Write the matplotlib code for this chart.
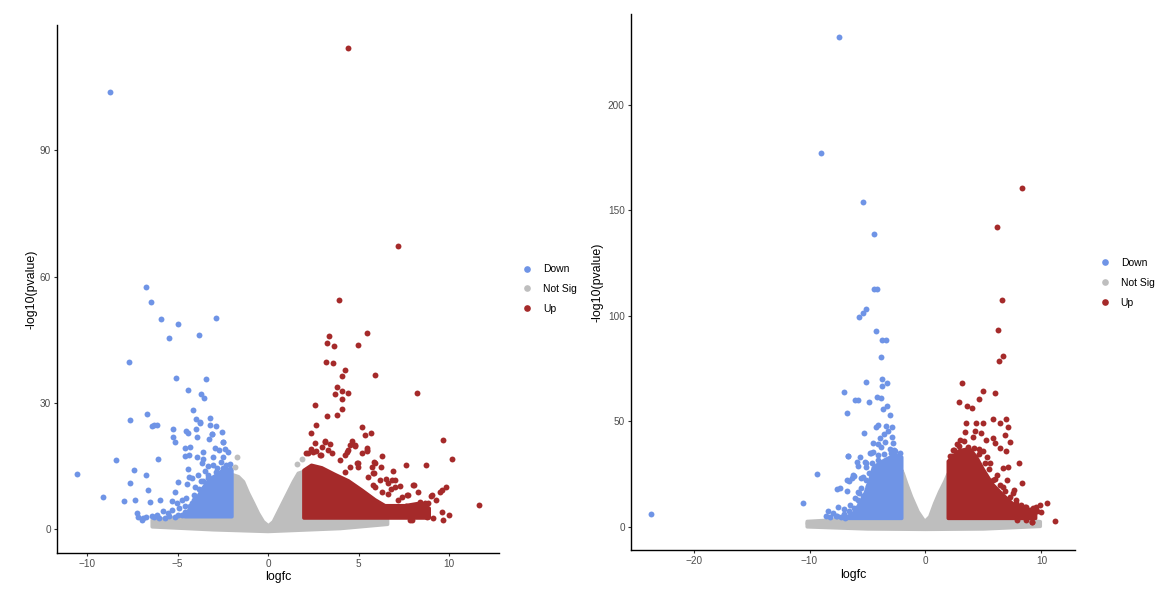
import matplotlib
matplotlib.use("Agg")
import matplotlib.pyplot as plt
from matplotlib.lines import Line2D

plt.rcParams['font.family'] = ['Liberation Sans', 'DejaVu Sans']

groups = ['Down', 'Not Sig', 'Up']
group_colors = ['#6F94E6', '#BEBEBE', '#A52A2A']

# ---- left panel ----
# single points (logfc, -log10 p)
left_down_x = [-8.73, -6.76, -6.48, -5.91, -4.99, -5.45, -2.89, -3.80, -7.66, -5.07, -3.43, -4.44,
               -3.72, -3.54, -4.13, -7.64, -6.69, -6.43, -6.28, -6.12, -5.23, -3.20, -4.00, -3.76,
               -3.19, -2.89, -4.55, -4.44, -3.94, -3.11, -2.52, -2.50, -5.23, -5.12, -3.24, -8.42,
               -6.08, -10.57, -9.12, -7.40, -6.76, -7.64, -6.63, -7.94, -7.35, -6.50, -5.95, -7.25,
               -6.98, -6.74, -6.43, -6.15, -4.96, -5.14, -5.32, -5.04, -4.75, -4.53, -4.44, -4.38,
               -4.22, -4.05, -4.49, -5.80, -5.51, -5.14, -4.74, -4.38, -3.63, -3.30, -3.04, -4.57,
               -4.33, -4.60, -4.36, -3.94, -3.61, -3.57, -2.91, -2.71, -2.36, -2.23, -3.02, -2.50,
               -2.58, -3.09, -2.49, -4.00, -3.77, -7.20, -6.90, -6.30, -5.70, -5.30, -4.90, -4.60,
               -4.20, -4.10, -3.90, -3.70, -3.50, -3.30, -2.80, -2.30, -2.10,
               -2.10, -2.50, -2.90, -3.30, -3.60, -3.80, -4.10, -4.30, -4.60, -5.00, -5.50, -6.00]
left_down_y = [103.9, 57.5, 54.1, 50.0, 48.8, 45.5, 50.2, 46.2, 39.7, 35.9, 35.6, 33.2,
               32.1, 31.2, 28.3, 26.0, 27.5, 24.5, 24.8, 24.7, 23.9, 26.5, 26.2, 25.3,
               24.8, 24.5, 23.3, 22.8, 22.0, 22.6, 23.2, 20.8, 22.0, 20.7, 21.4, 16.4,
               16.8, 13.1, 7.6, 14.1, 13.0, 11.1, 9.3, 6.7, 7.0, 6.5, 6.9, 3.9,
               2.3, 2.9, 3.2, 3.4, 11.3, 8.9, 6.7, 6.3, 7.0, 7.5, 14.3, 12.4,
               12.3, 10.0, 10.8, 4.4, 3.9, 3.0, 3.5, 4.0, 15.8, 15.0, 15.2, 19.4,
               19.5, 17.5, 17.6, 17.2, 18.3, 16.7, 19.4, 18.9, 19.2, 18.4, 17.1, 17.1,
               16.1, 22.7, 20.7, 23.9, 25.4, 3.0, 2.6, 2.9, 2.6, 4.6, 5.0, 5.6,
               6.3, 8.2, 12.9, 11.4, 13.9, 12.2, 14.6, 15.2, 14.4,
               15.6, 14.6, 13.6, 12.8, 11.5, 9.5, 7.0, 5.5, 4.2, 3.4, 3.2, 2.8]
left_ns_x = [-1.73, -1.82, 1.60, 1.88]
left_ns_y = [17.2, 14.9, 15.6, 16.7]
left_up_x = [4.42, 7.18, 3.92, 5.45, 3.37, 3.26, 3.66, 4.95, 3.22, 3.57, 4.25, 4.10,
             5.91, 3.80, 3.68, 4.09, 4.44, 4.07, 8.21, 2.60, 3.24, 3.80, 4.10, 2.65,
             2.38, 5.19, 5.38, 5.71, 9.67, 10.15, 3.17, 3.41, 2.98, 4.64, 4.82, 4.42,
             5.47, 5.49, 6.30, 5.87, 6.23, 5.78, 7.64, 8.75, 6.91, 2.10, 2.36, 2.65,
             2.91, 4.99, 4.53, 4.25, 7.29, 8.07, 6.78, 7.68, 6.61, 9.85, 9.50, 9.28,
             8.99, 11.64, 8.77, 9.13, 9.69, 7.85, 8.40, 8.67, 8.86, 7.20, 7.60, 8.20,
             9.60, 10.00, 6.20, 5.80, 6.50, 7.00, 8.30, 5.50,
             4.53, 4.81, 5.45, 5.91, 5.76, 5.87, 4.90, 4.99, 4.25, 4.35, 3.33, 3.52,
             2.23, 2.50, 2.87, 2.60, 3.15, 8.03, 6.83, 6.65, 7.02, 5.91, 6.28, 7.39,
             7.75, 9.04, 9.59, 7.94, 3.98, 5.18]
left_up_y = [114.3, 67.3, 54.5, 46.7, 45.9, 44.3, 43.6, 43.9, 39.7, 39.6, 37.8, 36.4,
             36.7, 33.7, 32.1, 32.8, 32.4, 31.0, 32.5, 29.5, 26.9, 27.1, 28.5, 24.8,
             23.0, 24.2, 22.3, 22.9, 21.3, 16.6, 20.9, 20.3, 19.6, 21.0, 19.8, 18.8,
             19.4, 18.6, 17.4, 15.9, 14.8, 13.3, 15.3, 15.2, 13.8, 18.1, 19.0, 18.6,
             17.6, 15.7, 14.9, 13.7, 10.4, 10.6, 9.5, 8.1, 8.3, 10.0, 8.9, 7.0,
             7.9, 5.8, 3.0, 2.75, 2.1, 2.2, 6.6, 6.2, 6.3, 6.9, 5.5, 4.5,
             4.2, 3.5, 11.8, 10.5, 12.0, 11.8, 8.8, 12.5,
             20.0, 20.0, 18.8, 15.7, 14.9, 13.3, 15.7, 14.9, 17.6, 18.4, 18.8, 18.1,
             18.1, 18.4, 17.6, 20.4, 20.8, 10.5, 11.7, 10.9, 10.1, 10.1, 8.9, 7.7,
             8.1, 8.1, 9.3, 2.2, 16.5, 18.1]
# outlines of the areas where the points overlap into a solid mass
left_ns_area_x = [-6.4, -6.4, -5.0, -3.0, -2.0, -1.92, -1.64, -1.36, -1.09, -0.81, -0.54, -0.26,
                  0.02, 0.29, 0.57, 0.85, 1.12, 1.40, 1.67, 1.95, 2.0, 5.0, 6.6, 6.6, 4.0, 0.0, -3.0]
left_ns_area_y = [0.6, 2.2, 2.8, 3.0, 3.0, 12.9, 12.5, 11.3, 8.6, 6.2, 3.8, 1.8,
                  0.8, 1.8, 4.2, 6.6, 8.9, 11.3, 13.3, 13.7, 3.0, 2.8, 2.6, 1.2, 0.2, -0.5, -0.1]
left_down_area_x = [-2.0, -2.0, -2.4, -2.8, -3.2, -3.6, -3.9, -4.2, -4.5, -4.6]
left_down_area_y = [3.0, 14.0, 14.4, 13.0, 12.0, 9.8, 7.6, 5.6, 3.8, 3.0]
left_up_area_x = [1.98, 1.98, 2.4, 2.97, 3.7, 4.44, 5.18, 5.91, 6.46, 7.57, 8.4, 8.9, 8.9]
left_up_area_y = [2.7, 14.0, 15.2, 14.6, 13.0, 11.5, 9.3, 7.0, 5.6, 5.6, 6.2, 5.0, 2.7]

# ---- right panel ----
right_down_x = [-7.45, -9.05, -5.41, -4.40, -4.40, -4.17, -5.72, -5.43, -5.15, -4.26, -3.71, -3.42,
                -3.83, -3.79, -3.79, -3.28, -5.17, -7.07, -6.07, -5.78, -4.86, -4.22, -3.85, -3.66,
                -3.36, -3.08, -6.81, -5.29, -4.31, -4.08, -3.42, -2.88, -3.60, -6.64, -5.66, -5.17,
                -5.78, -4.69, -4.52, -4.09, -3.85, -9.40, -6.59, -6.16, -7.62, -6.81, -5.78, -5.52,
                -10.58, -7.53, -23.68, -5.66, -5.23, -4.95, -4.66, -4.22, -5.95, -6.09, -6.38, -3.94,
                -3.51, -2.93, -2.79, -4.52, -4.80, -4.09, -6.67, -5.90, -5.23, -5.09, -6.24, -6.38,
                -6.76, -5.52, -5.38, -5.09, -7.39, -5.72, -6.09, -8.40, -8.00, -7.70, -7.30, -6.90,
                -8.60, -7.00, -6.50, -3.20, -2.60, -3.00, -2.40,
                -2.20, -2.70, -3.10, -3.60, -4.10, -4.60, -4.90, -5.00, -5.40, -5.80, -6.20, -6.60,
                -7.00, -7.60, -8.20]
right_down_y = [231.9, 177.3, 153.9, 138.6, 112.7, 112.8, 99.5, 101.4, 103.0, 92.7, 88.3, 88.5,
                80.3, 70.1, 66.8, 68.0, 68.6, 63.8, 60.0, 60.2, 59.0, 61.3, 61.0, 55.9,
                57.2, 52.9, 54.0, 44.3, 47.3, 48.1, 47.7, 47.1, 44.0, 33.6, 33.2, 30.0,
                28.7, 35.1, 39.5, 39.1, 37.9, 24.8, 21.8, 24.0, 18.0, 16.9, 16.6, 18.2,
                11.4, 9.3, 6.2, 11.1, 11.8, 12.6, 13.3, 14.2, 7.9, 6.3, 5.5, 41.9,
                40.3, 42.7, 39.5, 35.5, 34.8, 34.0, 33.5, 30.8, 30.8, 28.1, 24.5, 22.9,
                22.1, 22.9, 23.7, 22.1, 18.2, 15.8, 13.5, 7.6, 6.3, 5.2, 4.5, 4.0,
                5.0, 8.5, 10.5, 45.5, 36.0, 35.0, 33.5,
                35.0, 36.5, 37.0, 34.5, 31.5, 30.0, 25.5, 19.5, 14.5, 12.5, 9.0, 7.5,
                6.0, 5.0, 4.5]
right_ns_x = [-10.17]
right_ns_y = [1.6]
right_up_x = [8.33, 6.17, 6.58, 6.29, 6.38, 6.72, 3.13, 4.94, 4.66, 5.97, 2.93, 3.59,
              3.99, 3.53, 4.40, 4.97, 5.83, 6.41, 6.98, 7.12, 3.39, 4.10, 4.83, 5.26,
              5.83, 5.97, 6.84, 7.33, 6.41, 6.98, 8.04, 6.69, 7.12, 5.83, 6.69, 7.55,
              8.34, 7.84, 8.71, 9.28, 9.85, 9.22, 10.48, 11.21, 9.57, 8.84, 8.41, 9.19,
              8.71, 7.90, 2.50, 2.30, 4.60, 5.30, 5.60, 6.20, 7.00, 7.60, 5.00, 4.30,
              3.00, 2.70,
              2.10, 2.40, 2.90, 3.30, 3.70, 4.20, 4.60, 5.10, 5.50, 6.00, 6.40, 6.90,
              7.30, 7.80, 8.20, 8.60, 9.00, 9.60, 10.00]
right_up_y = [160.7, 142.2, 107.3, 93.4, 78.7, 80.8, 68.3, 64.5, 60.5, 63.2, 59.0, 57.4,
              56.4, 49.0, 49.3, 49.0, 50.9, 49.3, 50.9, 47.4, 45.0, 42.7, 44.3, 41.1,
              41.9, 39.5, 43.5, 40.0, 37.2, 36.0, 30.0, 27.7, 28.4, 22.1, 19.0, 15.8,
              20.6, 11.1, 9.5, 8.7, 10.3, 2.4, 11.1, 2.9, 9.5, 7.4, 6.6, 2.1,
              3.2, 3.2, 36.5, 33.5, 37.0, 33.0, 30.0, 24.5, 22.0, 17.5, 36.0, 45.5,
              41.0, 39.0,
              33.5, 36.5, 38.5, 40.5, 38.0, 37.5, 34.5, 30.0, 27.5, 22.5, 20.0, 17.0,
              14.0, 12.5, 10.5, 9.5, 8.0, 7.5, 7.0]
right_ns_area_x = [-10.2, -10.2, -7.0, -2.07, -2.07, -1.93, -1.64, -1.21, -0.64, -0.06, 0.37, 0.80,
                   1.23, 1.66, 1.95, 2.0, 8.0, 9.9, 9.9, 5.0, 0.0, -5.0]
right_ns_area_y = [0.0, 2.5, 3.5, 4.0, 26.9, 25.3, 20.6, 14.2, 7.1, 2.4, 4.7, 11.1,
                   16.6, 21.3, 25.0, 4.0, 3.5, 2.4, 0.2, -1.0, -1.2, -1.0]
right_down_area_x = [-2.05, -2.05, -2.6, -3.4, -4.0, -4.5, -4.8, -5.2, -5.66, -6.24, -6.8, -6.8]
right_down_area_y = [4.0, 33.0, 34.0, 32.0, 30.0, 28.0, 22.0, 16.0, 11.0, 6.3, 4.6, 4.0]
right_up_area_x = [1.97, 1.97, 2.9, 3.8, 4.4, 5.0, 5.8, 6.7, 7.5, 8.7, 9.5, 9.5]
right_up_area_y = [4.0, 31.0, 36.0, 37.0, 33.0, 27.0, 20.0, 15.0, 11.0, 8.5, 7.0, 4.0]

left_xticks = [-10, -5, 0, 5, 10]
left_yticks = [0, 30, 60, 90]
right_xticks = [-20, -10, 0, 10]
right_yticks = [0, 50, 100, 150, 200]


def volcano(ax, areas, points, xlim, ylim, xticks, yticks):
    # draw the not-sig cloud first, then down/up masses, then single points
    for i in [1, 0, 2]:
        ax_x, ax_y = areas[i]
        c = group_colors[i]
        ax.fill(ax_x, ax_y, facecolor=c, edgecolor=c, lw=2.6, joinstyle='round', zorder=1)
    for (px, py), c in zip(points, group_colors):
        ax.scatter(px, py, s=18, color=c, linewidths=0, zorder=2)
    ax.set_xlim(*xlim)
    ax.set_ylim(*ylim)
    ax.set_xticks(xticks)
    ax.set_yticks(yticks)
    for s in ['top', 'right']:
        ax.spines[s].set_visible(False)
    for s in ['left', 'bottom']:
        ax.spines[s].set_linewidth(1.0)
    ax.tick_params(length=2.5, width=0.8, color='#333333', labelsize=7.2,
                   labelcolor='#4D4D4D', pad=2)
    ax.set_xlabel('logfc', fontsize=8.9)
    ax.set_ylabel('-log10(pvalue)', fontsize=8.9)


fig = plt.figure(figsize=(11.69, 5.96), dpi=100)
ax1 = fig.add_axes([0.0488, 0.0721, 0.3781, 0.8859])
ax2 = fig.add_axes([0.5398, 0.0772, 0.3798, 0.8993])

volcano(ax1,
        [(left_down_area_x, left_down_area_y), (left_ns_area_x, left_ns_area_y),
         (left_up_area_x, left_up_area_y)],
        [(left_down_x, left_down_y), (left_ns_x, left_ns_y), (left_up_x, left_up_y)],
        (-11.66, 12.76), (-5.63, 119.8), left_xticks, left_yticks)
volcano(ax2,
        [(right_down_area_x, right_down_area_y), (right_ns_area_x, right_ns_area_y),
         (right_up_area_x, right_up_area_y)],
        [(right_down_x, right_down_y), (right_ns_x, right_ns_y), (right_up_x, right_up_y)],
        (-25.4, 12.9), (-11.0, 243.0), right_xticks, right_yticks)

ax1.xaxis.set_label_coords(0.5, -0.034)
ax1.yaxis.set_label_coords(-0.045, 0.5)
ax2.xaxis.set_label_coords(0.5, -0.036)
ax2.yaxis.set_label_coords(-0.061, 0.5)

handles = [Line2D([], [], marker='o', ls='', color=c, markersize=4.8, markeredgewidth=0)
           for c in group_colors]
for anchor in [(0.4422, 0.515), (0.9364, 0.5257)]:
    fig.legend(handles, groups, loc='center left', bbox_to_anchor=anchor, frameon=False,
               fontsize=7.5, handlelength=1.0, handletextpad=1.0, borderpad=0,
               labelspacing=0.95)

fig.savefig('out.png', dpi=100)
